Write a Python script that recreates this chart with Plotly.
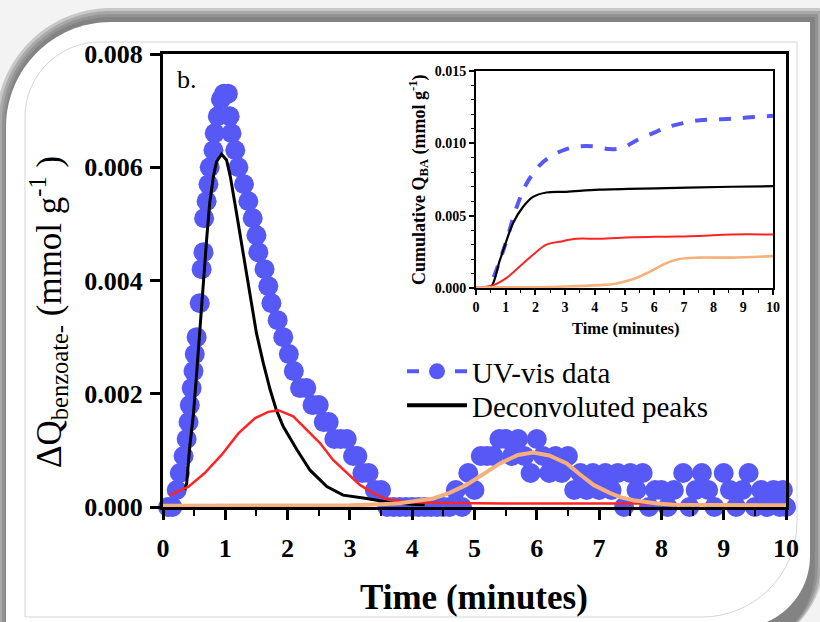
import plotly.graph_objects as go

# ---------------- data ----------------
# UV-vis data (main panel), time in minutes, dQ in mmol/g
t_uv = [0.08, 0.15, 0.22, 0.27, 0.33, 0.38, 0.41, 0.43, 0.46, 0.49, 0.51, 0.54, 0.59, 0.62,
        0.65, 0.66, 0.70, 0.73, 0.75, 0.81, 0.83, 0.88, 0.93, 0.98, 1.04, 1.07, 1.10, 1.16,
        1.21, 1.30, 1.37, 1.44, 1.50, 1.53, 1.63, 1.69, 1.74, 1.84, 1.93, 2.02, 2.10, 2.20,
        2.30, 2.40, 2.50, 2.58, 2.66, 2.75, 2.85, 2.95, 3.05, 3.12, 3.20, 3.30, 3.40, 3.50,
        3.60, 3.70, 3.80, 3.90, 4.00, 4.10, 4.20, 4.30, 4.40, 4.50, 4.60, 4.70, 4.80, 4.90,
        5.00, 5.10, 5.20, 5.30, 5.40, 5.50, 5.60, 5.70, 5.80, 5.90, 6.00, 6.10, 6.20, 6.30,
        6.40, 6.50, 6.60, 6.70, 6.80, 6.90, 7.00, 7.10, 7.20, 7.30, 7.40, 7.50, 7.60, 7.70,
        7.80, 7.90, 8.00, 8.10, 8.20, 8.35, 8.45, 8.55, 8.65, 8.75, 8.85, 9.00, 9.10, 9.20,
        9.30, 9.40, 9.50, 9.60, 9.70, 9.80, 9.90, 9.95, 10.00]
dq_uv = [0.0, 0.0, 0.0003, 0.0006, 0.0009, 0.0012, 0.0015, 0.0018, 0.0021, 0.0024, 0.0027, 0.0030, 0.0036, 0.0042,
         0.0045, 0.0051, 0.0054, 0.0057, 0.0060, 0.0063, 0.0066, 0.0069, 0.0072, 0.0073, 0.0073, 0.0069, 0.0066, 0.0063,
         0.0060, 0.0057, 0.0054, 0.0051, 0.0048, 0.0045, 0.0042, 0.0039, 0.0036, 0.0033, 0.0030, 0.0027, 0.0024, 0.0021,
         0.0021, 0.0018, 0.0018, 0.0015, 0.0015, 0.0012, 0.0012, 0.0012, 0.0009, 0.0009, 0.0006, 0.0006, 0.0003, 0.0003,
         0.0, 0.0, 0.0, 0.0, 0.0, 0.0, 0.0, 0.0, 0.0, 0.0, 0.0, 0.0003, 0.0, 0.0006,
         0.0003, 0.0009, 0.0009, 0.0009, 0.0012, 0.0012, 0.0009, 0.0012, 0.0009, 0.0006, 0.0012, 0.0009, 0.0006, 0.0009,
         0.0006, 0.0009, 0.0003, 0.0006, 0.0003, 0.0006, 0.0003, 0.0006, 0.0003, 0.0006, 0.0, 0.0006, 0.0003, 0.0006,
         0.0, 0.0003, 0.0003, 0.0, 0.0003, 0.0006, 0.0, 0.0003, 0.0006, 0.0003, 0.0, 0.0006, 0.0003, 0.0,
         0.0003, 0.0006, 0.0, 0.0003, 0.0, 0.0003, 0.0, 0.0003, 0.0]

# Deconvoluted peak 1 (black)
t_p1 = [0.35, 0.38, 0.43, 0.49, 0.54, 0.59, 0.65, 0.70, 0.75, 0.81, 0.86, 0.94, 1.02, 1.08,
        1.18, 1.29, 1.40, 1.50, 1.61, 1.72, 1.82, 1.93, 2.15, 2.36, 2.63, 2.89, 3.27, 3.64, 4.00, 4.20]
dq_p1 = [0.00030, 0.00042, 0.00107, 0.00166, 0.00236, 0.00313, 0.00389, 0.00472, 0.00537, 0.00584, 0.00610,
         0.00623, 0.00613, 0.00584, 0.00519, 0.00448, 0.00372, 0.00307, 0.00254, 0.00207, 0.00171, 0.00142,
         0.00101, 0.00065, 0.00036, 0.00021, 0.00015, 0.00008, 0.00005, 0.00004]

# Deconvoluted peak 2 (red)
t_p2 = [0.11, 0.41, 0.67, 0.94, 1.21, 1.48, 1.69, 1.85, 2.09, 2.31, 2.52, 2.73, 2.95, 3.16, 3.38,
        3.59, 3.91, 4.50, 5.50, 6.50, 7.50, 8.20]
dq_p2 = [0.00021, 0.00036, 0.00060, 0.00092, 0.00130, 0.00157, 0.00168, 0.00171, 0.00160, 0.00136, 0.00113,
         0.00083, 0.00060, 0.00039, 0.00024, 0.00014, 0.00009, 0.00007, 0.00006, 0.00006, 0.00006, 0.00006]

# Deconvoluted peak 3 (orange)
t_p3 = [0.0, 1.0, 2.0, 3.0, 3.5, 3.8, 4.34, 4.60, 4.87, 5.15, 5.41, 5.70, 5.94, 6.20, 6.48, 6.70,
        6.91, 7.17, 7.35, 7.55, 7.75, 7.93, 8.20, 9.00, 10.0]
dq_p3 = [0.00002, 0.00002, 0.00002, 0.00003, 0.00005, 0.000065, 0.00015, 0.00025, 0.00039, 0.00058, 0.00077,
         0.00092, 0.00096, 0.00091, 0.00077, 0.00057, 0.00039, 0.00025, 0.00017, 0.00012, 0.00008, 0.00006,
         0.00004, 0.00003, 0.00003]

# Inset: cumulative Q_BA
t_cum_uv = [0.0, 0.36, 0.47, 0.81, 1.03, 1.37, 1.70, 2.15, 2.60, 3.05, 3.50, 3.94, 4.50, 4.95, 5.40,
            5.96, 6.42, 6.97, 7.54, 8.10, 8.66, 9.22, 10.0]
q_cum_uv = [0.0, 0.0, 0.0002, 0.00195, 0.0033, 0.0056, 0.0072, 0.0085, 0.0092, 0.0096, 0.0098, 0.0098,
            0.0096, 0.0097, 0.0102, 0.0107, 0.0111, 0.0114, 0.0116, 0.01165, 0.0117, 0.0118, 0.0119]
t_cum_p1 = [0.0, 0.47, 0.80, 1.03, 1.25, 1.58, 1.92, 2.37, 3.04, 4.15, 6.40, 8.60, 10.0]
q_cum_p1 = [0.0, 0.0, 0.0019, 0.0033, 0.0045, 0.0056, 0.0063, 0.0066, 0.00665, 0.0068, 0.0069, 0.0070, 0.00704]
t_cum_p2 = [0.0, 0.58, 1.03, 1.48, 1.92, 2.37, 2.82, 3.38, 4.15, 5.27, 6.40, 7.50, 8.60, 10.0]
q_cum_p2 = [0.0, 0.0002, 0.0007, 0.0015, 0.0023, 0.0030, 0.0032, 0.0034, 0.0034, 0.0035, 0.00355, 0.0036,
            0.0037, 0.0037]
t_cum_p3 = [0.0, 1.0, 2.0, 3.04, 4.15, 4.70, 5.27, 5.83, 6.39, 6.84, 7.50, 8.60, 10.0]
q_cum_p3 = [0.00003, 0.00004, 0.00005, 0.0001, 0.0002, 0.0003, 0.0006, 0.0011, 0.0017, 0.0020, 0.0021,
            0.0021, 0.0022]

x_ticks = [0, 1, 2, 3, 4, 5, 6, 7, 8, 9, 10]

# ---------------- geometry helpers ----------------
FW, FH = 820, 622
ML, MR, MT, MB = 163, 34, 54, 115
PW = FW - ML - MR
PH = FH - MT - MB


def X(px):
    return (px - ML) / PW


def Y(py):
    return (FH - MB - py) / PH


def rounded_path(x0, y0, x1, y1, r1, r2):
    k = 0.4477
    return (f"M {X(x0)},{Y(y0 + r1)} "
            f"C {X(x0)},{Y(y0 + r1 * k)} {X(x0 + r1 * k)},{Y(y0)} {X(x0 + r1)},{Y(y0)} "
            f"L {X(x1)},{Y(y0)} L {X(x1)},{Y(y1 - r2)} "
            f"C {X(x1)},{Y(y1 - r2 * k)} {X(x1 - r2 * k)},{Y(y1)} {X(x1 - r2)},{Y(y1)} "
            f"L {X(x0)},{Y(y1)} Z")


BLUE = "#5659F6"
RED = "#FF2424"
ORANGE = "#F5B07C"
SERIF = "Liberation Serif"

fig = go.Figure()

# main panel
fig.add_trace(go.Scatter(x=t_uv, y=dq_uv, mode="markers",
                         marker=dict(size=20, color=BLUE), showlegend=False,
                         cliponaxis=False))
fig.add_trace(go.Scatter(x=t_p1, y=dq_p1, mode="lines", line=dict(color="black", width=3),
                         showlegend=False, cliponaxis=False))
fig.add_trace(go.Scatter(x=t_p2, y=dq_p2, mode="lines", line=dict(color=RED, width=2.5),
                         showlegend=False, cliponaxis=False))
fig.add_trace(go.Scatter(x=t_p3, y=dq_p3, mode="lines", line=dict(color=ORANGE, width=4),
                         showlegend=False, cliponaxis=False))
# legend entries
fig.add_trace(go.Scatter(x=[None], y=[None], mode="lines+markers", name="UV-vis data",
                         line=dict(color=BLUE, width=4, dash="dash"),
                         marker=dict(size=16, color=BLUE), legend="legend"))
fig.add_trace(go.Scatter(x=[None], y=[None], mode="lines", name="Deconvoluted peaks",
                         line=dict(color="black", width=4), legend="legend2"))

# inset
fig.add_trace(go.Scatter(x=t_cum_uv, y=q_cum_uv, mode="lines", xaxis="x2", yaxis="y2",
                         line=dict(color=BLUE, width=4, dash="dash", shape="spline"),
                         showlegend=False))
fig.add_trace(go.Scatter(x=t_cum_p1, y=q_cum_p1, mode="lines", xaxis="x2", yaxis="y2",
                         line=dict(color="black", width=2.2, shape="spline"), showlegend=False))
fig.add_trace(go.Scatter(x=t_cum_p2, y=q_cum_p2, mode="lines", xaxis="x2", yaxis="y2",
                         line=dict(color=RED, width=2, shape="spline"), showlegend=False))
fig.add_trace(go.Scatter(x=t_cum_p3, y=q_cum_p3, mode="lines", xaxis="x2", yaxis="y2",
                         line=dict(color=ORANGE, width=2.6, shape="spline"), showlegend=False))

# ---------------- background card ----------------
shapes = []
for i, op in enumerate([0.28, 0.28, 0.28, 0.28]):
    d = 3 * i
    shapes.append(dict(type="path", xref="paper", yref="paper", layer="below",
                       path=rounded_path(-4 + d, 8 + d, 824 - d, 650, 115 - d, 90 - d),
                       fillcolor="#5a5a5a", opacity=op, line=dict(width=0)))
shapes.append(dict(type="path", xref="paper", yref="paper", layer="below",
                   path=rounded_path(6, 22, 810, 628, 105, 72),
                   fillcolor="white", line=dict(width=0)))
shapes.append(dict(type="path", xref="paper", yref="paper", layer="below",
                   path=rounded_path(25, 42, 797, 617, 75, 95),
                   fillcolor="rgba(0,0,0,0)", line=dict(color="#d6d6d6", width=1)))

ann = [
    dict(text="b.", x=X(187), y=Y(80), font=dict(family=SERIF, size=26, color="black")),
    dict(text="Time (minutes)", x=X(474), y=Y(597),
         font=dict(family=SERIF, size=35, color="black", weight="bold")),
    dict(text="ΔQ<sub>benzoate-</sub> (mmol g<sup>-1</sup> )", x=X(48), y=Y(312), textangle=-90,
         font=dict(family=SERIF, size=35, color="black")),
    dict(text="Time (minutes)", x=X(625), y=Y(328),
         font=dict(family=SERIF, size=16.5, color="black", weight="bold")),
    dict(text="Cumulative Q<sub>BA</sub> (mmol g<sup>-1</sup>)", x=X(418), y=Y(180), textangle=-90,
         font=dict(family=SERIF, size=18, color="black", weight="bold")),
]
for a in ann:
    a.update(xref="paper", yref="paper", showarrow=False, xanchor="center", yanchor="middle")

axis_common = dict(showline=True, linecolor="black", mirror=True, ticks="outside",
                   tickcolor="black", showgrid=False, zeroline=False)

legend_common = dict(xanchor="left", yanchor="top", bgcolor="rgba(0,0,0,0)",
                     font=dict(family=SERIF, size=29, color="black"), itemwidth=60)

fig.update_layout(
    width=FW, height=FH,
    margin=dict(l=ML, r=MR, t=MT, b=MB),
    paper_bgcolor="#f3f3f3", plot_bgcolor="rgba(0,0,0,0)",
    shapes=shapes, annotations=ann,
    xaxis=dict(domain=[0, 1], range=[0, 10], tickvals=x_ticks, linewidth=3, ticklen=10, tickwidth=3,
               minor=dict(ticks="outside", dtick=0.5, ticklen=6, tickwidth=2, tickcolor="black"),
               tickfont=dict(family=SERIF, size=26, color="black", weight="bold"),
               ticklabelstandoff=6, **axis_common),
    yaxis=dict(domain=[0, 1], range=[0, 0.008], dtick=0.002, tickformat=".3f", linewidth=3,
               ticklen=10, tickwidth=3,
               tickfont=dict(family=SERIF, size=26, color="black", weight="bold"),
               ticklabelstandoff=2, **axis_common),
    xaxis2=dict(domain=[X(476), X(773)], anchor="y2", range=[0, 10], tickvals=x_ticks, linewidth=2,
                ticklen=5, tickwidth=1.5,
                minor=dict(ticks="outside", dtick=0.5, ticklen=3, tickwidth=1, tickcolor="black"),
                tickfont=dict(family=SERIF, size=14, color="black", weight="bold"), **axis_common),
    yaxis2=dict(domain=[Y(288), Y(71)], anchor="x2", range=[0, 0.015], dtick=0.005, tickformat=".3f",
                linewidth=2, ticklen=5, tickwidth=1.5,
                minor=dict(ticks="outside", dtick=0.001, ticklen=3, tickwidth=1, tickcolor="black"),
                tickfont=dict(family=SERIF, size=14, color="black", weight="bold"), **axis_common),
    legend=dict(x=X(402), y=Y(346), **legend_common),
    legend2=dict(x=X(402), y=Y(380), **legend_common),
    showlegend=True,
)

fig.write_html("out.html", config={"displayModeBar": False},
               post_script="document.body.style.margin='0px';")
